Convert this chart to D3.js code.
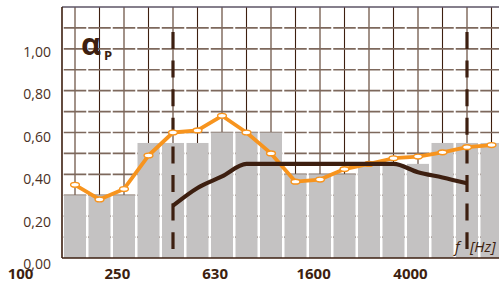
<!DOCTYPE html>
<html>
<head>
<meta charset="utf-8">
<script src="https://cdn.jsdelivr.net/npm/d3@7"></script>
<style>
  body { margin: 0; background: #fff; }
  svg { display: block; font-family: "Open Sans", "Liberation Sans", sans-serif; }
</style>
</head>
<body>
<div id="chart"></div>
<script>
// Chart data (1/3 octave bands)
// ================================
var bands = [160, 200, 250, 315, 400, 500, 630, 800, 1000, 1250, 1600, 2000, 2500, 3150, 4000, 5000, 6300, 8000];
var barValues = [0.30, 0.30, 0.30, 0.55, 0.55, 0.55, 0.60, 0.60, 0.60, 0.40, 0.40, 0.40, 0.45, 0.45, 0.45, 0.55, 0.55, 0.55];
var measuredValues = [0.35, 0.28, 0.33, 0.49, 0.60, 0.61, 0.68, 0.60, 0.50, 0.365, 0.375, 0.425, 0.45, 0.477, 0.485, 0.505, 0.53, 0.54];
var refBands = [400, 500, 630, 800, 1000, 1250, 1600, 2000, 2500, 3150, 4000, 5000, 6300];
var refValues = [0.25, 0.335, 0.39, 0.45, 0.45, 0.45, 0.45, 0.45, 0.45, 0.45, 0.41, 0.385, 0.357];
var limitBands = [400, 6300];
var xTicks = [100, 250, 630, 1600, 4000];
var yTicks = [0, 0.2, 0.4, 0.6, 0.8, 1.0];

// Set up our chart
// ================================
var svgWidth = 499;
var svgHeight = 284;

var margin = { top: 7, right: 0, bottom: 26, left: 62 };
var width = svgWidth - margin.left - margin.right;
var height = svgHeight - margin.top - margin.bottom;

var dark = "#3d1f10";
var orange = "#f7941e";

var svg = d3
  .select("#chart")
  .append("svg")
  .attr("width", svgWidth)
  .attr("height", svgHeight);

var chartGroup = svg
  .append("g")
  .attr("transform", `translate(${margin.left}, ${margin.top})`);

// scales
var step = 24.5;
var x = d3
  .scaleBand()
  .domain(bands)
  .range([0.75, 0.75 + step * bands.length]);

var y = d3.scaleLinear().domain([0, 1.2]).range([height, 0]);

// label scales (labels sit a little off the grid in the original)
var xLab = d3.scaleLog().domain([100, 4000]).range([20 - margin.left, 410 - margin.left]);
var yLab = d3.scaleLinear().domain([0, 1]).range([height + 6.5, 45]);

var cx = (f) => x(f) + x.bandwidth() / 2;

// grid
// ================================
chartGroup
  .append("g")
  .selectAll("line")
  .data(bands)
  .enter()
  .append("line")
  .attr("x1", (d) => cx(d))
  .attr("x2", (d) => cx(d))
  .attr("y1", 0)
  .attr("y2", height)
  .attr("stroke", (d, i) => (i % 2 === 0 ? "#8b776b" : dark))
  .attr("stroke-width", (d, i) => (i % 2 === 0 ? 1.6 : 1.1));

chartGroup
  .append("g")
  .selectAll("line")
  .data(y.ticks(12).filter((d) => d > 0.05 && d < 1.15))
  .enter()
  .append("line")
  .attr("x1", 1.75)
  .attr("x2", width)
  .attr("y1", (d) => y(d))
  .attr("y2", (d) => y(d))
  .attr("stroke", "#7d685c")
  .attr("stroke-width", 1.6)
  .attr("stroke-dasharray", "22.5,2");

// top border
chartGroup
  .append("line")
  .attr("x1", 0)
  .attr("x2", width)
  .attr("y1", y(1.2))
  .attr("y2", y(1.2))
  .attr("stroke", "#5d5566")
  .attr("stroke-width", 1.6);

// bars
// ================================
var gap = 2.5;
chartGroup
  .append("g")
  .selectAll("rect")
  .data(bands)
  .enter()
  .append("rect")
  .attr("x", (d) => x(d) + gap / 2)
  .attr("y", (d, i) => y(barValues[i]))
  .attr("width", x.bandwidth() - gap)
  .attr("height", (d, i) => height - y(barValues[i]))
  .attr("fill", "#c4c2c2");

// axes lines
chartGroup
  .append("line")
  .attr("x1", 0)
  .attr("x2", 0)
  .attr("y1", 0)
  .attr("y2", height)
  .attr("stroke", dark)
  .attr("stroke-width", 1.6);

chartGroup
  .append("line")
  .attr("x1", 0)
  .attr("x2", width)
  .attr("y1", height)
  .attr("y2", height)
  .attr("stroke", dark)
  .attr("stroke-width", 1.6);

// dashed limit lines
chartGroup
  .append("g")
  .selectAll("line")
  .data(limitBands)
  .enter()
  .append("line")
  .attr("x1", (d) => cx(d))
  .attr("x2", (d) => cx(d))
  .attr("y1", 25)
  .attr("y2", 242)
  .attr("stroke", dark)
  .attr("stroke-width", 3.2)
  .attr("stroke-dasharray", "17,11.6");

// measured line (orange)
// ================================
var measuredLine = d3
  .line()
  .x((d) => cx(d))
  .y((d, i) => y(measuredValues[i]));

chartGroup
  .append("path")
  .attr("d", measuredLine(bands))
  .attr("fill", "none")
  .attr("stroke", orange)
  .attr("stroke-width", 3.8)
  .attr("stroke-linejoin", "round");

chartGroup
  .append("g")
  .selectAll("ellipse")
  .data(bands)
  .enter()
  .append("ellipse")
  .attr("cx", (d) => cx(d))
  .attr("cy", (d, i) => y(measuredValues[i]))
  .attr("rx", 4.4)
  .attr("ry", 2.4)
  .attr("fill", "#fff")
  .attr("stroke", orange)
  .attr("stroke-width", 1.4);

// reference curve (dark)
var refLine = d3
  .line()
  .curve(d3.curveMonotoneX)
  .x((d) => cx(d))
  .y((d, i) => y(refValues[i]));

chartGroup
  .append("path")
  .attr("d", refLine(refBands))
  .attr("fill", "none")
  .attr("stroke", dark)
  .attr("stroke-width", 4.2);

// labels
// ================================
var commaFormat = d3.formatLocale({
  decimal: ",",
  thousands: ".",
  grouping: [3],
  currency: ["", ""],
}).format(".2f");

var leftAxis = d3.axisLeft(yLab).tickValues(yTicks).tickFormat(commaFormat).tickSize(0).tickPadding(0);
var yAxis = chartGroup
  .append("g")
  .attr("transform", `translate(${51 - margin.left}, 0)`)
  .call(leftAxis);
yAxis.select(".domain").remove();
yAxis
  .selectAll("text")
  .attr("fill", "#4a3024")
  .style("font-size", "14px")
  .style("font-family", "'Open Sans', sans-serif");

var bottomAxis = d3.axisBottom(xLab).tickValues(xTicks).tickFormat(d3.format("d")).tickSize(0).tickPadding(0);
var xAxis = chartGroup
  .append("g")
  .attr("transform", `translate(0, ${height + 10})`)
  .call(bottomAxis);
xAxis.select(".domain").remove();
xAxis
  .selectAll("text")
  .attr("fill", dark)
  .style("font-size", "15px")
  .style("font-weight", "bold")
  .style("font-family", "'Open Sans', sans-serif");

// alpha p title
var title = svg
  .append("text")
  .attr("x", 81)
  .attr("y", 55)
  .attr("fill", dark)
  .style("font-weight", "bold");
title.append("tspan").style("font-size", "31px").text("α");
title.append("tspan").attr("dx", 3).attr("dy", 5).style("font-size", "13px").text("P");

// f [Hz]
var unit = svg
  .append("text")
  .attr("x", 455)
  .attr("y", 252)
  .attr("fill", dark)
  .style("font-style", "italic")
  .style("font-size", "15px");
unit.append("tspan").text("f");
unit.append("tspan").attr("x", 470).text("[Hz]");
</script>
</body>
</html>
